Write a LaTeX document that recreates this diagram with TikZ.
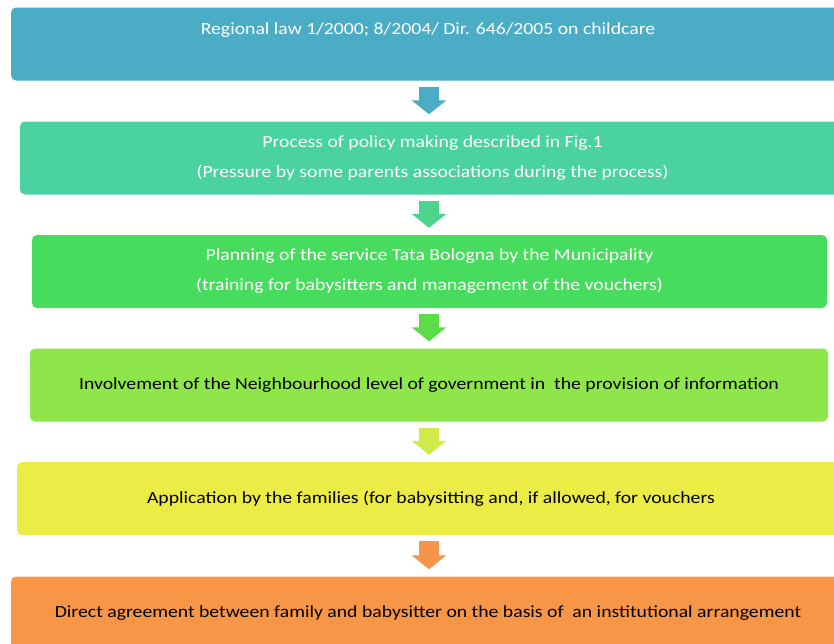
\documentclass[tikz,border=0pt]{standalone}
\usepackage{fontspec}
\setmainfont{Carlito}[FakeStretch=1.16]
\usetikzlibrary{arrows.meta}
\definecolor{cA}{HTML}{4BACC6}
\definecolor{cB}{HTML}{4AD2A1}
\definecolor{cC}{HTML}{48DC5E}
\definecolor{cD}{HTML}{8EE64A}
\definecolor{cE}{HTML}{ECEC47}
\definecolor{cF}{HTML}{F79646}
\definecolor{aB}{HTML}{4CD48C}
\definecolor{aC}{HTML}{5ADD47}
\definecolor{aD}{HTML}{D2EA47}
\definecolor{aF}{HTML}{F5944A}
\begin{document}
\begin{tikzpicture}
  [x=1pt,y=1pt,every node/.style={rounded corners=5pt,inner sep=0pt,
  align=center,font=\fontsize{17}{30}\selectfont},
  stage/.style={fill=#1,minimum height=73pt},
  flow/.style={draw=#1,line width=20pt,-{Triangle[width=34pt,length=14pt]},
  shorten <=6pt,shorten >=7pt}]
  \useasboundingbox (0,0) rectangle (834,-643);
  \coordinate (mid) at (429,0);
  \node[stage=cA,minimum width=834pt,text=white] (law) at (428,-44)
    {Regional law 1/2000; 8/2004/ Dir. 646/2005 on childcare\\ \mbox{}};
  \node[stage=cB,minimum width=825pt,text=white] (policy) at (432.5,-158)
    {Process of policy making described in Fig.1\\
     (Pressure by some parents associations during the process)};
  \node[stage=cC,minimum width=795pt,text=white] (plan) at (429.5,-271.5)
    {Planning of the service Tata Bologna by the Municipality\\
     (training for babysitters and management of the vouchers)};
  \node[stage=cD,minimum width=798pt] (hood) at (429,-385)
    {Involvement of the Neighbourhood level of government in \ the provision of information};
  \node[stage=cE,minimum width=828pt] (apply) at (431,-498.5)
    {Application by the families (for babysitting and, if allowed, for vouchers};
  \node[stage=cF,minimum width=834pt] (deal) at (428,-613)
    {Direct agreement between family and babysitter on the basis of \ an institutional arrangement};

  \draw[flow=cA] (law.south -| mid) -- (policy.north -| mid);
  \draw[flow=aB] (policy.south -| mid) -- (plan.north -| mid);
  \draw[flow=aC] (plan.south -| mid) -- (hood.north -| mid);
  \draw[flow=aD] (hood.south -| mid) -- (apply.north -| mid);
  \draw[flow=aF] (apply.south -| mid) -- (deal.north -| mid);

\end{tikzpicture}
\end{document}
